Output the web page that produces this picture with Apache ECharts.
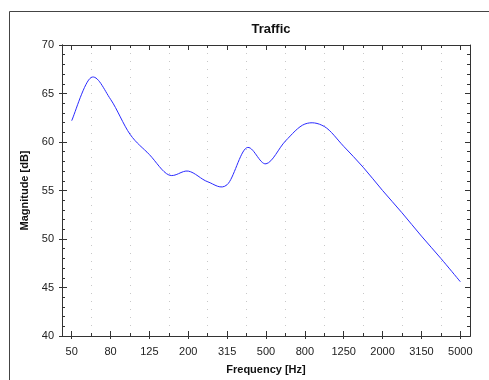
<!DOCTYPE html>
<html>
<head>
<meta charset="utf-8">
<script src="https://cdn.jsdelivr.net/npm/echarts@6/dist/echarts.min.js"></script>
<style>html,body{margin:0;padding:0;background:#fff}#c{width:489px;height:380px}</style>
</head>
<body>
<div id="c"></div>
<script>
const categories = ['50','63','80','100','125','160','200','250','315','400','500','630','800','1000','1250','1600','2000','2500','3150','4000','5000'];
const magnitude = [62.2, 66.65, 64.4, 60.8, 58.7, 56.6, 57.0, 55.9, 55.6, 59.4, 57.75, 60.1, 61.85, 61.6, 59.55, 57.4, 55.0, 52.7, 50.3, 48.0, 45.6];
const yTicks = {min: 40, max: 70, interval: 5};

const FONT = 'Liberation Sans, Arial, sans-serif';
const AX = '#333';
const chart = echarts.init(document.getElementById('c'), null, {renderer: 'canvas'});

function xAx(pos, opts) {
  return Object.assign({
    type: 'category', data: categories, position: pos, boundaryGap: true,
    axisLine: {show: true, lineStyle: {color: AX, width: 1}},
    axisLabel: {show: false},
    splitLine: {show: false}
  }, opts);
}
function yAx(pos, opts) {
  return Object.assign({
    type: 'value', position: pos, min: yTicks.min, max: yTicks.max, interval: yTicks.interval,
    axisLine: {show: true, lineStyle: {color: AX, width: 1}},
    axisLabel: {show: false},
    splitLine: {show: false}
  }, opts);
}

// Smooth spline segment (Catmull-Rom) between consecutive data points, positioned via the axes' scales
function renderSegment(params, api) {
  const i = params.dataIndex;
  const n = magnitude.length;
  if (i >= n - 1) return null;
  const pt = (j) => {
    const k = Math.max(0, Math.min(n - 1, j));
    return api.coord([k, magnitude[k]]);
  };
  const p0 = pt(i - 1), p1 = pt(i), p2 = pt(i + 1), p3 = pt(i + 2);
  const t = 6;
  return {
    type: 'bezierCurve',
    shape: {
      x1: p1[0], y1: p1[1], x2: p2[0], y2: p2[1],
      cpx1: p1[0] + (p2[0] - p0[0]) / t, cpy1: p1[1] + (p2[1] - p0[1]) / t,
      cpx2: p2[0] - (p3[0] - p1[0]) / t, cpy2: p2[1] - (p3[1] - p1[1]) / t
    },
    style: {stroke: '#2a2aff', lineWidth: 1, fill: null}
  };
}

chart.setOption({
  animation: false,
  backgroundColor: '#fff',
  title: {
    text: 'Traffic', left: 266, top: 18, textAlign: 'center',
    textStyle: {fontFamily: FONT, fontSize: 13, fontWeight: 'bold', color: '#111'}
  },
  graphic: [{
    type: 'rect', z: -10, silent: true,
    shape: {x: 9.5, y: 11.5, width: 600, height: 500},
    style: {fill: 'none', stroke: '#444', lineWidth: 1}
  }],
  grid: {left: 62, right: 19, top: 45, bottom: 43, containLabel: false},
  xAxis: [
    xAx('bottom', {
      name: 'Frequency [Hz]', nameLocation: 'middle', nameGap: 28,
      nameTextStyle: {fontFamily: FONT, fontSize: 11, fontWeight: 'bold', color: '#111'},
      axisTick: {show: true, inside: true, length: 3, interval: 0, alignWithLabel: true, lineStyle: {color: AX}},
      axisLabel: {show: true, interval: 1, margin: 10, fontFamily: FONT, fontSize: 11, color: '#222'},
      splitLine: {show: true, alignWithLabel: true, interval: function (i) { return i % 2 === 1; },
        lineStyle: {color: '#c8c8c8', type: [1, 7], width: 1}}
    }),
    xAx('bottom', {axisTick: {show: true, inside: true, length: 5, interval: 1, alignWithLabel: true, lineStyle: {color: AX}}}),
    xAx('bottom', {axisTick: {show: true, inside: false, length: 3, interval: 1, alignWithLabel: true, lineStyle: {color: AX}}}),
    xAx('top', {axisTick: {show: true, inside: true, length: 3, interval: 0, alignWithLabel: true, lineStyle: {color: AX}}}),
    xAx('top', {axisTick: {show: true, inside: true, length: 5, interval: 1, alignWithLabel: true, lineStyle: {color: AX}}})
  ],
  yAxis: [
    yAx('left', {
      name: 'Magnitude [dB]', nameLocation: 'middle', nameGap: 29, nameRotate: 90,
      nameTextStyle: {fontFamily: FONT, fontSize: 11, fontWeight: 'bold', color: '#111'},
      axisTick: {show: true, inside: true, length: 5, lineStyle: {color: AX}},
      minorTick: {show: true, splitNumber: 5, length: 3, lineStyle: {color: AX}},
      axisLabel: {show: true, margin: 8, fontFamily: FONT, fontSize: 11, color: '#222'}
    }),
    yAx('left', {axisTick: {show: true, inside: false, length: 3, lineStyle: {color: AX}}}),
    yAx('right', {
      axisTick: {show: true, inside: true, length: 5, lineStyle: {color: AX}},
      minorTick: {show: true, splitNumber: 5, length: 3, lineStyle: {color: AX}}
    })
  ],
  series: [{
    type: 'custom', xAxisIndex: 0, yAxisIndex: 0,
    data: magnitude.map((v, i) => [i, v]),
    encode: {x: 0, y: 1},
    renderItem: renderSegment
  }]
});
</script>
</body>
</html>
